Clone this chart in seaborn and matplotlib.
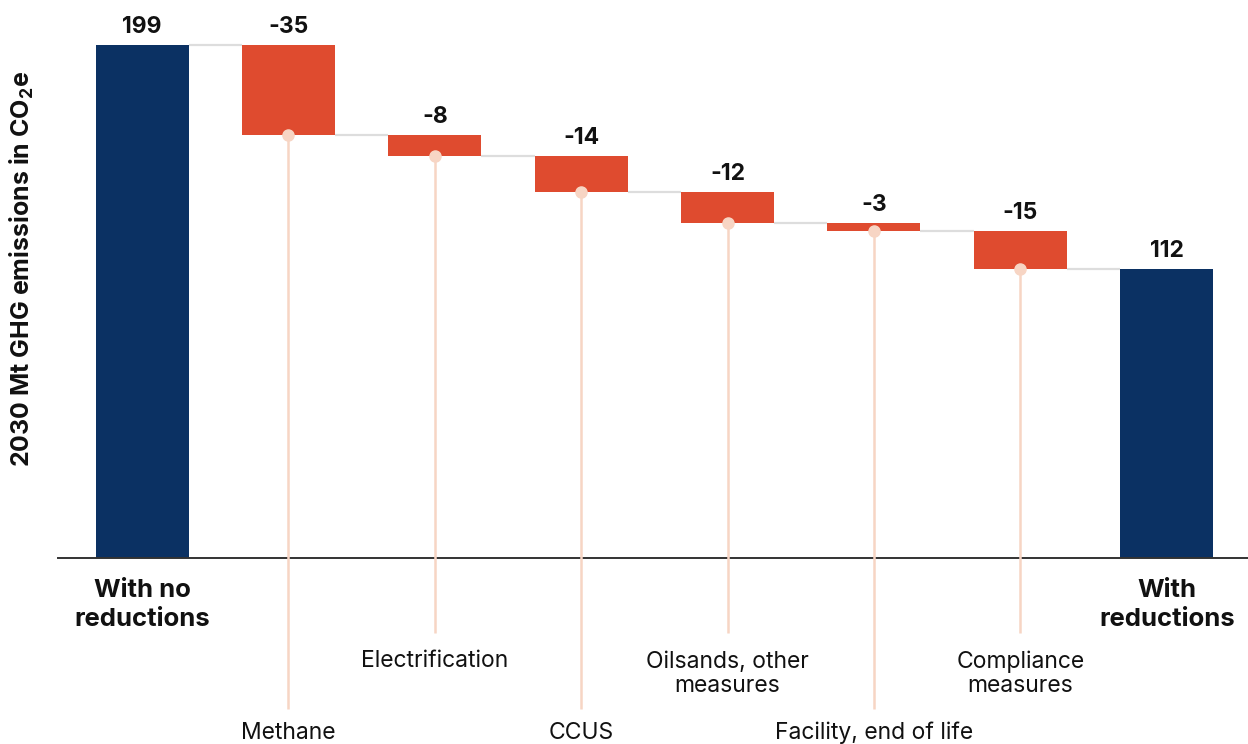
import matplotlib.pyplot as plt
import numpy as np
import seaborn as sns

# chart data
categories = ["With no\nreductions", "Methane", "Electrification", "CCUS",
              "Oilsands, other\nmeasures", "Facility, end of life",
              "Compliance\nmeasures", "With\nreductions"]
values = [199, -35, -8, -14, -12, -3, -15, 112]
is_total = [True, False, False, False, False, False, False, True]
value_labels = ["199", "-35", "-8", "-14", "-12", "-3", "-15", "112"]
# where each category label sits below the axis: 0 = top row, 1 = middle, 2 = bottom
label_row = [0, 2, 1, 2, 1, 2, 1, 0]

NAVY = "#0b3163"
RED = "#df4b2f"
PEACH = "#f7d5c4"
GREY = "#dddddd"
FONT = "Inter"

sns.set_style("white")
plt.rcParams["font.family"] = [FONT, "DejaVu Sans"]
plt.rcParams["mathtext.fontset"] = "custom"
plt.rcParams["mathtext.rm"] = FONT
plt.rcParams["mathtext.bf"] = FONT + ":bold"

# waterfall geometry
bottoms, heights, levels = [], [], []
running = 0
for v, tot in zip(values, is_total):
    if tot:
        bottoms.append(0)
        heights.append(v)
        running = v
    else:
        running = running + v
        bottoms.append(running)
        heights.append(-v)
    levels.append(running)
bottoms = np.array(bottoms)
heights = np.array(heights)
tops = bottoms + heights

fig = plt.figure(figsize=(12.48, 7.44), dpi=100)
ax = fig.add_axes([58 / 1248, 0.25, 1 - 58 / 1248, 0.75])

width = 0.635
sns.barplot(x=categories, y=heights, bottom=bottoms, color=RED, width=width,
            errorbar=None, saturation=1, ax=ax, zorder=2)
for patch, tot in zip(ax.patches, is_total):
    patch.set_facecolor(NAVY if tot else RED)
    patch.set_edgecolor("none")

xs = np.arange(len(values))

# connectors between bars
for i in range(len(values) - 1):
    ax.plot([xs[i] + width / 2, xs[i + 1] - width / 2], [levels[i], levels[i]],
            color=GREY, lw=1.6, zorder=1, solid_capstyle="butt")

# value labels
for x, top, lab in zip(xs, tops, value_labels):
    ax.annotate(lab, (x, top), xytext=(0, 5), textcoords="offset points",
                ha="center", va="bottom", fontsize=16.5, fontweight="bold",
                color="#111111")

# category labels and leader lines
row_y = {0: -18.2, 1: -40.0, 2: -67.9}
row_y2 = {1: -45.0, 2: -67.9}
line_end = {1: -29.1, 2: -58.6}
for x, cat, tot, row, b in zip(xs, categories, is_total, label_row, bottoms):
    if tot:
        ax.text(x, row_y[0], cat, ha="center", va="center", fontsize=18.5,
                fontweight="bold", color="#111111", linespacing=1.36,
                clip_on=False)
        continue
    y = row_y2[row] if "\n" in cat else row_y[row]
    ax.text(x, y, cat, ha="center", va="center", fontsize=16.5,
            color="#111111", linespacing=1.13, clip_on=False)
    ax.plot([x, x], [b, line_end[row]], color=PEACH, lw=1.8, zorder=3,
            clip_on=False, solid_capstyle="butt")
    ax.plot(x, b, "o", color=PEACH, ms=8, zorder=4, clip_on=False)

ax.set_xlim(-0.574, 7.555)
ax.set_ylim(0, 558 / (513 / 199))
ax.set_xticks([])
ax.set_yticks([])
ax.set_xlabel("")
sns.despine(ax=ax, left=True)
ax.spines["bottom"].set_color("#333333")
ax.spines["bottom"].set_linewidth(1.4)

fig.text(22 / 1248, 1 - 269 / 744, r"2030 Mt GHG emissions in CO$_\mathbf{2}$e",
         rotation=90, ha="center", va="center", fontsize=18,
         fontweight="bold", color="#111111")

fig.savefig("out.png", dpi=100)
